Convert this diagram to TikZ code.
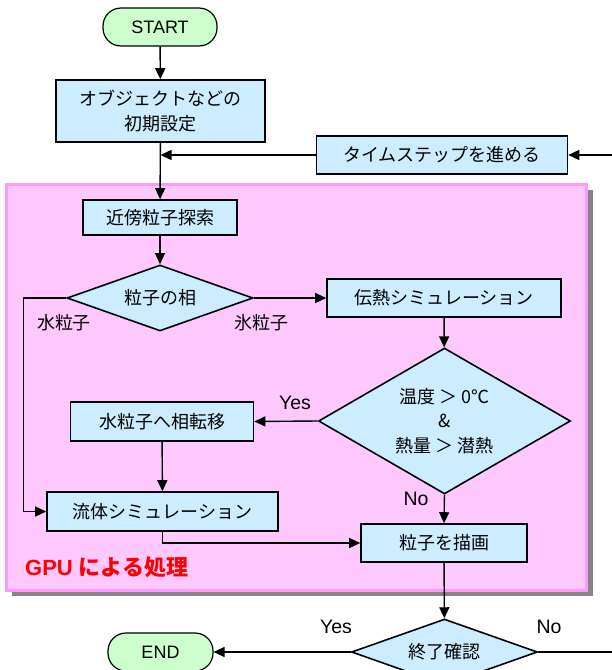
\documentclass[tikz,border=0pt]{standalone}
\usepackage{fontspec}
\setmainfont{Liberation Sans}
\newfontfamily\jp{Noto Sans CJK JP}
\usetikzlibrary{shapes.geometric,arrows.meta}
\definecolor{boxblue}{HTML}{CCECFF}
\definecolor{termgreen}{HTML}{CCFFCC}
\definecolor{pinkfill}{HTML}{FFC8FF}
\definecolor{pinkline}{HTML}{FF99FF}
\definecolor{shadowgray}{HTML}{858585}
\tikzset{
  procbox/.style={draw=black, line width=1.6pt, fill=boxblue, inner sep=0pt,
    font=\jp\fontsize{18}{25}\selectfont, align=center},
  termbox/.style={draw=black, line width=1.2pt, fill=termgreen, inner sep=0pt,
    minimum width=#1, minimum height=38pt, rounded corners=18pt,
    font=\fontsize{18}{20}\selectfont},
  decbox/.style={diamond, draw=black, line width=1.6pt, fill=boxblue, inner sep=0pt,
    font=\jp\fontsize{18}{24.5}\selectfont, align=center},
  arr/.style={line width=1.4pt, -{Triangle[length=11pt,width=10pt]}},
  ln/.style={line width=1.4pt},
  lbl/.style={font=\jp\fontsize{18}{20}\selectfont, inner sep=0pt},
  yn/.style={font=\fontsize{19.5}{21}\selectfont, inner sep=0pt}
}
\begin{document}
\begin{tikzpicture}[x=1pt,y=-1pt]
\useasboundingbox (0,0) rectangle (612,670);
\clip (0,0) rectangle (612,670);
% GPU region
\fill[shadowgray] (11.5,189.5) rectangle (592.5,595.5);
\draw[pinkline, fill=pinkfill, line width=3pt] (6.5,184.5) rectangle (586.5,590.5);
\node[font=\jp\bfseries\fontsize{22}{24}\selectfont, text=red, anchor=west, inner sep=0pt] (gpu) at (25,567) {\fontspec{Liberation Sans}\bfseries GPU\ \jp による処理};
% nodes
\node[termbox=114pt] (start) at (160,27) {START};
\node[procbox, minimum width=209pt, minimum height=62pt] (init) at (160.5,111) {オブジェクトなどの\\初期設定};
\node[procbox, minimum width=251pt, minimum height=38pt] (time) at (442,155) {タイムステップを進める};
\coordinate (rin) at (612,155);
\node[procbox, minimum width=154pt, minimum height=35pt] (near) at (160,217.5) {近傍粒子探索};
\node[decbox, aspect=2.82, minimum width=186pt, minimum height=66pt] (phase) at (160,298) {粒子の相};
\node[procbox, minimum width=234pt, minimum height=38pt] (heat) at (444,298) {伝熱シミュレーション};
\node[decbox, aspect=1.726, minimum width=252pt, minimum height=146pt] (temp) at (444.5,421) {温度 ＞ 0℃\\\&\\熱量 ＞ 潜熱};
\node[procbox, minimum width=183pt, minimum height=39pt] (trans) at (162,421.5) {水粒子へ相転移};
\node[procbox, minimum width=231pt, minimum height=39pt] (fluid) at (162.5,511.5) {流体シミュレーション};
\node[procbox, minimum width=166pt, minimum height=38pt] (draw) at (444,543) {粒子を描画};
\node[decbox, aspect=2.82, minimum width=186pt, minimum height=66pt] (fin) at (444.5,652) {終了確認};
\node[termbox=105pt] (end) at (160.5,652) {END};
\coordinate (rout) at (612,652);
\coordinate (leftbus) at (23.5,298);
% labels
\node[lbl] (lw) at (64,323) {水粒子};
\node[lbl] (li) at (261,323) {氷粒子};
\node[yn] (y1) at (295,403) {Yes};
\node[yn] (n1) at (416,499) {No};
\node[yn] (y2) at (336,627) {Yes};
\node[yn] (n2) at (549,627) {No};
% connectors
\draw[arr] (start) -- (init);
\draw[arr] (init) -- (near);
\draw[arr] (rin) -- (time);
\draw[arr] (time.west) -- (init.south |- time.west);
\draw[arr] (near) -- (phase);
\draw[arr] (phase.east) -- (heat.west);
\draw[arr] (phase.west) -- (leftbus) |- (fluid.west);
\draw[arr] (heat) -- (temp);
\draw[arr] (temp.west) -- (trans.east);
\draw[arr] (trans) -- (fluid);
\draw[arr] (temp.south) -- (draw.north);
\draw[arr] (fluid.south) |- (draw.west);
\draw[arr] (draw) -- (fin);
\draw[arr] (fin.west) -- (end.east);
\draw[ln] (fin.east) -- (rout);
\end{tikzpicture}
\end{document}
